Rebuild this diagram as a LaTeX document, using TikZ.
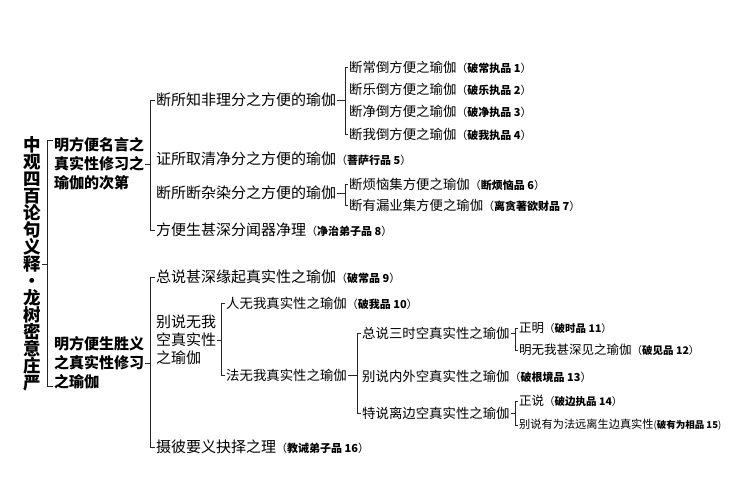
\documentclass[tikz,border=0pt]{standalone}
\usepackage{fontspec}
\setmainfont{Noto Sans CJK SC}
\usetikzlibrary{positioning, calc}
\tikzset{
  rootbox/.style = {inner sep=1pt, align=center, font=\fontsize{17.5}{17}\selectfont\bfseries},
  secbox/.style = {inner sep=1pt, anchor=west, align=left, font=\fontsize{15}{19}\selectfont\bfseries},
  levone/.style = {inner sep=1pt, anchor=west, align=left, font=\fontsize{15}{18}\selectfont},
  levtwo/.style = {inner sep=1pt, anchor=west, font=\fontsize{13.4}{16}\selectfont},
  levthree/.style = {inner sep=1pt, anchor=west, font=\fontsize{12.5}{15}\selectfont},
  link/.style = {draw=black!85, line width=0.9pt}
}
\newcommand{\pintag}[2][11]{{\fontsize{#1}{13}\selectfont（\textbf{#2}）}}

\begin{document}
\begin{tikzpicture}[x=1pt, y=-1pt]
    \useasboundingbox (0,0) rectangle (752,502);

    % Titolo e due sezioni
    \node (title) [rootbox] at (32,264) {中\\观\\四\\百\\论\\句\\义\\释\\·\\龙\\树\\密\\意\\庄\\严};
    \node (conventional) [secbox] at (53,164) {明方便名言之\\真实性修习之\\瑜伽的次第};
    \node (ultimate) [secbox, below=199pt of conventional.west, anchor=west] {明方便生胜义\\之真实性修习\\之瑜伽};

    % Prima sezione
    \node (knowable) [levone] at (155,100) {断所知非理分之方便的瑜伽};
    \node (purity) [levone, below=59pt of knowable.west, anchor=west] {证所取清净分之方便的瑜伽\pintag{菩萨行品 5}};
    \node (defiled) [levone, below=34pt of purity.west, anchor=west] {断所断杂染分之方便的瑜伽};
    \node (vessel) [levone, below=37pt of defiled.west, anchor=west] {方便生甚深分闻器净理\pintag{净治弟子品 8}};

    \node (permanence) [levtwo] at (348,67) {断常倒方便之瑜伽\pintag{破常执品 1}};
    \node (bliss) [levtwo, below=22pt of permanence.west, anchor=west] {断乐倒方便之瑜伽\pintag{破乐执品 2}};
    \node (cleanness) [levtwo, below=22pt of bliss.west, anchor=west] {断净倒方便之瑜伽\pintag{破净执品 3}};
    \node (self) [levtwo, below=23pt of cleanness.west, anchor=west] {断我倒方便之瑜伽\pintag{破我执品 4}};
    \node (afflict) [levtwo] at (348,184) {断烦恼集方便之瑜伽\pintag{断烦恼品 6}};
    \node (karma) [levtwo, below=21pt of afflict.west, anchor=west] {断有漏业集方便之瑜伽\pintag{离贪著欲财品 7}};

    % Seconda sezione
    \node (dependent) [levone] at (155,277) {总说甚深缘起真实性之瑜伽\pintag{破常品 9}};
    \node (selfless) [levone, below=63pt of dependent.west, anchor=west] {别说无我\\空真实性\\之瑜伽};
    \node (summary) [levone, below=170pt of dependent.west, anchor=west] {摄彼要义抉择之理\pintag{教诫弟子品 16}};

    \node (personal) [levtwo] at (225,303) {人无我真实性之瑜伽\pintag{破我品 10}};
    \node (phenomena) [levtwo, below=72pt of personal.west, anchor=west] {法无我真实性之瑜伽};

    \node (threeTimes) [levtwo] at (361,333) {总说三时空真实性之瑜伽};
    \node (innerOuter) [levtwo, below=43pt of threeTimes.west, anchor=west] {别说内外空真实性之瑜伽\pintag{破根境品 13}};
    \node (extremes) [levtwo, below=37pt of innerOuter.west, anchor=west] {特说离边空真实性之瑜伽};

    \node (rightShow) [levthree] at (518,328) {正明\pintag[10.5]{破时品 11}};
    \node (deepView) [levthree, below=22pt of rightShow.west, anchor=west] {明无我甚深见之瑜伽\pintag[10.5]{破见品 12}};
    \node (rightSpeak) [levthree] at (518,401) {正说\pintag[10.5]{破边执品 14}};
    \node (composite) [levthree, font=\fontsize{11.2}{13}\selectfont, below=24pt of rightSpeak.west, anchor=west] {别说有为法远离生边真实性{\fontsize{9.5}{11}\selectfont(\textbf{破有为相品 15})}};

    % Parentesi
    \draw [link] ($(conventional.north west)+(0,4)$) -- ++(-6,0) coordinate (kRoot) |- ($(ultimate.south west)+(0,-4)$);
    \draw [link] (title.east) -- (title.east -| kRoot);

    \draw [link] (knowable.west) -- ++(-5,0) coordinate (kConv) |- (vessel.west);
    \draw [link] (conventional.east) -- (conventional.east -| kConv);
    \draw [link] (dependent.west) -- ++(-5,0) coordinate (kUlt) |- (summary.west);
    \draw [link] (ultimate.east) -- (ultimate.east -| kUlt);

    \draw [link] (permanence.west) -- ++(-3,0) coordinate (kKnow) |- (self.west);
    \draw [link] (knowable.east) -- (knowable.east -| kKnow);
    \draw [link] (afflict.west) -- ++(-3,0) coordinate (kDef) |- (karma.west);
    \draw [link] (defiled.east) -- (defiled.east -| kDef);

    \draw [link] (personal.west) -- ++(-4,0) coordinate (kSelf) |- (phenomena.west);
    \draw [link] (selfless.east) -- (selfless.east -| kSelf);
    \draw [link] (threeTimes.west) -- ++(-4,0) coordinate (kPhen) |- (extremes.west);
    \draw [link] (phenomena.east) -- (phenomena.east -| kPhen);

    \draw [link] (rightShow.west) -- ++(-3,0) coordinate (kThree) |- (deepView.west);
    \draw [link] (threeTimes.east) -- (threeTimes.east -| kThree);
    \draw [link] (rightSpeak.west) -- ++(-3,0) coordinate (kExt) |- (composite.west);
    \draw [link] (extremes.east) -- (extremes.east -| kExt);

\end{tikzpicture}
\end{document}
